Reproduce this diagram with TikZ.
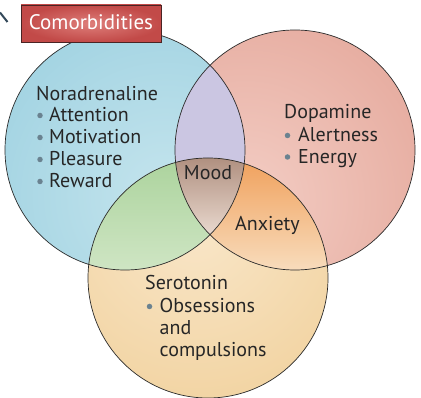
\documentclass[tikz,border=0pt]{standalone}
\usepackage{fontspec}
\setmainfont{PT Sans}
\definecolor{blueo}{HTML}{8FCADC}
\definecolor{bluei}{HTML}{C4E4ED}
\definecolor{pinko}{HTML}{E09C8E}
\definecolor{pinki}{HTML}{F3CDC4}
\definecolor{sando}{HTML}{EDC88A}
\definecolor{sandi}{HTML}{F9E6C8}
\definecolor{purp}{HTML}{CBC6E2}
\definecolor{greeno}{HTML}{A9D29A}
\definecolor{greeni}{HTML}{D8EACE}
\definecolor{orgo}{HTML}{EF9C55}
\definecolor{orgi}{HTML}{F8DCBC}
\definecolor{moodo}{HTML}{B09080}
\definecolor{moodi}{HTML}{EADAD0}
\definecolor{txt}{HTML}{262626}
\definecolor{bulc}{HTML}{6A8290}
\definecolor{boxo}{HTML}{C24A48}
\definecolor{boxi}{HTML}{DE7E7A}
\definecolor{boxline}{HTML}{4A2424}
\definecolor{ring}{HTML}{2A2A2A}
\definecolor{leadc}{HTML}{34495A}
\begin{document}
\begin{tikzpicture}[x=1pt,y=-1pt,
  lbl/.style={anchor=base west,inner sep=0pt,text=txt,font=\fontsize{20}{22}\selectfont},
  bul/.style={circle,fill=bulc,inner sep=0pt,minimum size=5.5pt},
  ringline/.style={draw=ring,line width=0.7pt}]
\useasboundingbox (0,0) rectangle (421,398);
\def\cA{(125,150) circle[radius=120]}
\def\cB{(295,150) circle[radius=120]}
\def\cC{(208,278) circle[radius=120]}
% base fills, lighter toward the middle of the diagram
\begin{scope}
  \clip \cA;
  \shade[inner color=bluei,outer color=blueo] (-135,-105) rectangle (465,495);
\end{scope}
\begin{scope}
  \clip \cB;
  \shade[inner color=pinki,outer color=pinko] (-55,-100) rectangle (545,500);
\end{scope}
\begin{scope}
  \clip \cC;
  \shade[inner color=sandi,outer color=sando] (-105,-75) rectangle (495,525);
\end{scope}
% pairwise overlaps
\begin{scope}
  \clip \cA;
  \fill[purp] \cB;
\end{scope}
\begin{scope}
  \clip \cA;
  \clip \cC;
  \shade[shading angle=35,top color=greeno,bottom color=greeni] (80,150) rectangle (240,300);
\end{scope}
\begin{scope}
  \clip \cB;
  \clip \cC;
  \shade[shading angle=-40,top color=orgo,bottom color=orgi] (180,150) rectangle (340,270);
\end{scope}
\begin{scope}
  \clip \cA;
  \clip \cB;
  \clip \cC;
  \shade[top color=moodo,bottom color=moodi] (170,158) rectangle (250,236);
\end{scope}
% outlines
\draw[ringline] \cA;
\draw[ringline] \cB;
\draw[ringline] \cC;
% title box
\shade[inner color=boxi,outer color=boxo,draw=boxline,line width=0.9pt] (21,5) rectangle (161,42);
\node[anchor=base,inner sep=0pt,text=white,font=\fontsize{21}{22}\selectfont] (title) at (91,30) {Comorbidities};
\coordinate (lead) at (0,12.5);
\coordinate (leadend) at (7.5,22);
\draw[draw=leadc,line width=2pt] (lead) -- (leadend);
% noradrenaline
\node[lbl] (nor) at (36,101) {Noradrenaline};
\node[bul] (b1) at (40,115.5) {};
\node[lbl] (n1) at (49,122) {Attention};
\node[bul] (b2) at (40,137.5) {};
\node[lbl] (n2) at (49,144) {Motivation};
\node[bul] (b3) at (40,159.5) {};
\node[lbl] (n3) at (49,166) {Pleasure};
\node[bul] (b4) at (40,181.5) {};
\node[lbl] (n4) at (49,188) {Reward};
% dopamine
\node[lbl] (dop) at (284,119) {Dopamine};
\node[bul] (b5) at (287.5,135.5) {};
\node[lbl] (d1) at (298,141.5) {Alertness};
\node[bul] (b6) at (287.5,157) {};
\node[lbl] (d2) at (298,163.3) {Energy};
% serotonin
\node[lbl] (ser) at (145,290) {Serotonin};
\node[bul] (b7) at (149.5,306.5) {};
\node[lbl] (s1) at (159.5,312.7) {Obsessions};
\node[lbl] (s2) at (159.5,335) {and};
\node[lbl] (s3) at (159.5,357) {compulsions};
% intersections
\node[lbl,anchor=base] (mood) at (208,180) {Mood};
\node[lbl,anchor=base] (anx) at (267.5,230.7) {Anxiety};
\end{tikzpicture}
\end{document}
